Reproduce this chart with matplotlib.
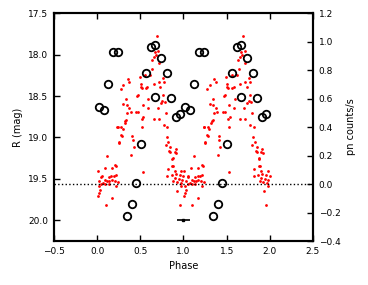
#!/usr/bin/env python3

import numpy as np
import matplotlib
matplotlib.use("Agg")
import matplotlib.pyplot as plt

# optical light curve, one cycle (phase, R mag), folded twice
r_phase = [
    0.006, 0.024, 0.047, 0.056, 0.047, 0.071, 0.017, 0.032, 0.017, 0.009,
    0.087, 0.094, 0.117, 0.140, 0.171, 0.203, 0.094, 0.133, 0.133, 0.163,
    0.195, 0.218, 0.171, 0.210, 0.221, 0.117, 0.171, 0.102, 0.218, 0.241,
    0.233, 0.241, 0.249, 0.252, 0.272, 0.279, 0.295, 0.287, 0.325, 0.319,
    0.337, 0.272, 0.302, 0.357, 0.372, 0.337, 0.302, 0.372, 0.349, 0.392,
    0.407, 0.411, 0.426, 0.395, 0.453, 0.464, 0.476, 0.492, 0.504, 0.507,
    0.527, 0.515, 0.522, 0.531, 0.342, 0.476, 0.534, 0.515,
    0.562, 0.580, 0.557, 0.592, 0.585, 0.615, 0.631, 0.638, 0.654, 0.658,
    0.658, 0.670, 0.681, 0.693, 0.704, 0.708, 0.716, 0.716, 0.716, 0.731,
    0.739, 0.754, 0.762, 0.766, 0.770, 0.774, 0.785, 0.793,
    0.797, 0.805, 0.812, 0.824, 0.847, 0.847, 0.870, 0.909, 0.916, 0.817,
    0.870, 0.835, 0.898, 0.875, 0.882, 0.812, 0.901, 0.974, 0.866, 0.913,
    0.959, 0.997, 0.898, 0.944, 0.982, 0.882, 0.921, 0.967, 0.974, 0.928,
    0.959,
]
r_mag = [
    19.41, 19.52, 19.48, 19.46, 19.56, 19.55, 19.59, 19.63, 19.67, 19.71,
    19.37, 19.51, 19.52, 19.52, 19.51, 19.52, 19.56, 19.56, 19.48, 19.47,
    19.47, 19.45, 19.37, 19.33, 19.35, 19.22, 19.73, 19.81, 19.58, 19.54,
    18.87, 18.87, 19.07, 19.05, 18.97, 18.87, 18.90, 18.98, 18.80, 18.82,
    18.79, 18.41, 18.37, 18.29, 18.33, 18.53, 18.60, 18.65, 18.70, 18.69,
    18.98, 19.03, 19.11, 19.21, 18.69, 18.50, 18.49, 18.27, 18.36, 18.39,
    18.61, 18.78, 18.87, 19.42, 18.61, 18.69, 18.75, 18.40,
    18.40, 18.39, 18.25, 18.54, 18.65, 18.25, 18.06, 18.18, 18.03, 18.36,
    18.78, 17.97, 18.01, 17.78, 18.65, 17.96, 18.10, 18.33, 18.78, 18.39,
    18.59, 18.56, 18.28, 18.49, 18.85, 18.33, 18.57, 18.70,
    19.09, 18.99, 18.87, 19.05, 19.11, 19.17, 19.26, 19.14, 19.19, 19.38,
    19.34, 19.16, 19.18, 19.25, 19.34, 19.47, 19.40, 19.40, 19.45, 19.44,
    19.45, 19.47, 19.49, 19.50, 19.51, 19.52, 19.54, 19.55, 19.59, 19.65,
    19.81,
]

# X-ray binned rate (phase, counts/s)
pn_phase = [0.021, 0.079, 0.125, 0.183, 0.241, 0.345, 0.403, 0.449, 0.507,
            0.565, 0.623, 0.670, 0.670, 0.739, 0.809, 0.855, 0.913, 0.959]
pn_rate = [0.540, 0.519, 0.702, 0.926, 0.926, -0.225, -0.140, 0.007, 0.281,
           0.779, 0.961, 0.975, 0.610, 0.884, 0.779, 0.603, 0.470, 0.491]

# typical phase error bar
err_phase = 1.0
err_mag = 20.0
err_width = 0.075

plt.rcParams["font.family"] = "DejaVu Sans"
plt.rcParams["font.size"] = 6.5

fig = plt.figure(figsize=(3.68, 2.85), dpi=100)
ax = fig.add_axes([0.1467, 0.154, 0.7038, 0.8])

rp = np.array(r_phase)
rm = np.array(r_mag)
ax.plot(np.concatenate([rp, rp + 1]), np.concatenate([rm, rm]), "o",
        color="red", markersize=2.0, markeredgewidth=0)
ax.errorbar(err_phase, err_mag, xerr=err_width, fmt="s", color="black",
            markersize=2, elinewidth=1.2, capsize=0)

ax.set_xlim(-0.5, 2.5)
ax.set_ylim(20.25, 17.5)
ax.set_xticks(np.arange(-0.5, 2.51, 0.5))
ax.set_yticks(np.arange(17.5, 20.01, 0.5))
ax.set_xlabel("Phase", fontsize=7)
ax.set_ylabel("R (mag)", fontsize=7)
ax.tick_params(direction="in", top=True, length=4, width=1, pad=4)

ax2 = ax.twinx()
pp = np.array(pn_phase)
pr = np.array(pn_rate)
ax2.axhline(0, color="black", linestyle=":", linewidth=1)
ax2.plot(np.concatenate([pp, pp + 1]), np.concatenate([pr, pr]), "o",
         markerfacecolor="none", markeredgecolor="black", markersize=5.4,
         markeredgewidth=1.3)
ax2.set_ylim(-0.4, 1.2)
ax2.set_yticks(np.arange(-0.4, 1.21, 0.2))
ax2.set_ylabel("pn counts/s", fontsize=7)
ax2.tick_params(direction="in", length=4, width=1, pad=4)

for a in (ax, ax2):
    for s in a.spines.values():
        s.set_linewidth(1.5)

fig.savefig("out.png", dpi=100)
